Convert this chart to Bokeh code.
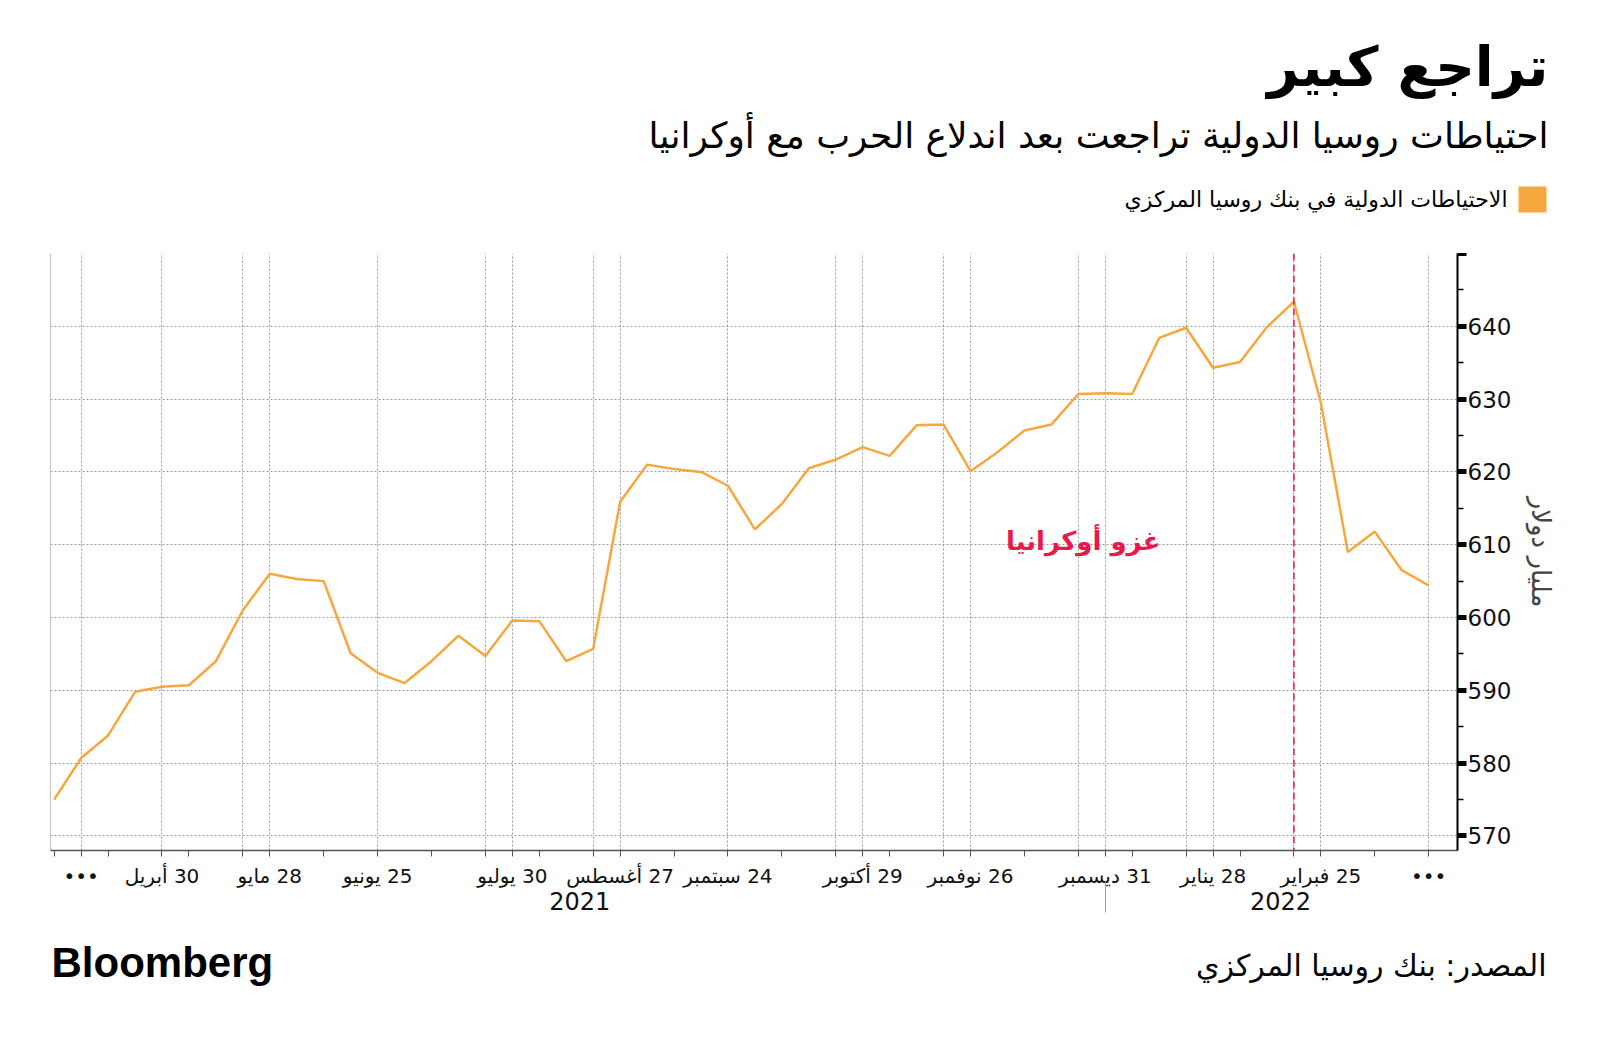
import numpy as np
import pandas as pd
from bokeh.plotting import figure
from bokeh.layouts import column
from bokeh.models import Range1d, FixedTicker, Label, Span, LinearAxis
from bokeh.embed import file_html
from bokeh.resources import INLINE

# ---------------- data ----------------
dates = pd.date_range("2021-04-02", "2022-03-25", freq="W-FRI")
reserves = [575.0, 580.7, 583.8, 589.8, 590.5, 590.7, 594.0, 601.0, 606.0, 605.3,
            605.0, 595.1, 592.4, 591.0, 594.0, 597.5, 594.7, 599.6, 599.5, 594.0,
            595.7, 615.9, 621.0, 620.4, 620.0, 618.1, 612.1, 615.6, 620.5, 621.7,
            623.4, 622.2, 626.4, 626.5, 620.1, 622.7, 625.7, 626.5, 630.7, 630.8,
            630.7, 638.4, 639.8, 634.3, 635.1, 639.9, 643.4, 629.5, 609.0, 611.8,
            606.5, 604.4]

month_label_dates = ["2021-04-30", "2021-05-28", "2021-06-25", "2021-07-30", "2021-08-27",
                     "2021-09-24", "2021-10-29", "2021-11-26", "2021-12-31", "2022-01-28",
                     "2022-02-25"]
month_label_texts = ["30 أبريل", "28 مايو", "25 يونيو", "30 يوليو", "27 أغسطس",
                     "24 سبتمبر", "29 أكتوبر", "26 نوفمبر", "31 ديسمبر", "28 يناير",
                     "25 فبراير"]
grid_dates = ["2021-04-09", "2021-04-30", "2021-05-21", "2021-05-28", "2021-06-25",
              "2021-07-23", "2021-07-30", "2021-08-20", "2021-08-27", "2021-09-24",
              "2021-10-22", "2021-10-29", "2021-11-19", "2021-11-26", "2021-12-24",
              "2021-12-31", "2022-01-21", "2022-01-28", "2022-02-18", "2022-02-25",
              "2022-03-25"]
tick_dates = ["2021-04-02", "2021-04-09", "2021-04-16", "2021-04-30", "2021-05-07",
              "2021-05-21", "2021-05-28", "2021-06-11", "2021-06-25", "2021-07-09",
              "2021-07-23", "2021-07-30", "2021-08-06", "2021-08-20", "2021-08-27",
              "2021-09-10", "2021-09-24", "2021-10-08", "2021-10-22", "2021-10-29",
              "2021-11-05", "2021-11-19", "2021-11-26", "2021-12-10", "2021-12-24",
              "2021-12-31", "2022-01-07", "2022-01-21", "2022-01-28", "2022-02-04",
              "2022-02-18", "2022-02-25", "2022-03-11", "2022-03-25"]
ellipsis_dates = ["2021-04-09", "2022-03-25"]
invasion_date = "2022-02-18"
year_separator_date = "2021-12-31"
years = ["2021", "2022"]
year_centers = [19.5, 45.5]  # week positions of the year captions

y_ticks = [570, 580, 590, 600, 610, 620, 630, 640, 650]
y_minor = [575, 585, 595, 605, 615, 625, 635, 645]

TITLE = "تراجع كبير"
SUBTITLE = "احتياطات روسيا الدولية تراجعت بعد اندلاع الحرب مع أوكرانيا"
LEGEND = "الاحتياطات الدولية في بنك روسيا المركزي"
SOURCE = "المصدر: بنك روسيا المركزي"
Y_LABEL = "مليار دولار"
EVENT = "غزو أوكرانيا"

# ---------------- helpers ----------------
date_str = list(dates.strftime("%Y-%m-%d"))
pos = {d: i for i, d in enumerate(date_str)}
x = [pos[d] for d in date_str]

ORANGE = "#F6A73F"
RED = "#E8194B"
AR = "DejaVu Sans"
RLM = "\u200f"
W = 1600
HEAD_H, FOOT_H = 253, 110
MAIN_H = 1040 - HEAD_H - FOOT_H


def blank(height):
    f = figure(width=W, height=height, output_backend="svg", toolbar_location=None,
               x_range=Range1d(0, W), y_range=Range1d(height, 0),
               x_axis_type=None, y_axis_type=None, min_border=0,
               min_border_left=0, min_border_right=0, min_border_top=0,
               min_border_bottom=0, frame_align=False)
    f.title.visible = False
    f.outline_line_color = None
    f.grid.visible = False
    return f


# ---------------- header ----------------
head = blank(HEAD_H)
head.add_layout(Label(x=1548, y=66, text=TITLE, text_font=AR, text_font_style="bold",
                      text_font_size="55px", text_color="black", text_align="right",
                      text_baseline="middle"))
head.add_layout(Label(x=1548, y=135, text=SUBTITLE, text_font=AR, text_font_size="36px",
                      text_color="black", text_align="right", text_baseline="middle"))
head.quad(left=[1518], right=[1546], top=[186], bottom=[212], fill_color=ORANGE,
          line_color=None)
head.add_layout(Label(x=1507, y=199, text=LEGEND, text_font=AR, text_font_size="22px",
                      text_color="black", text_align="right", text_baseline="middle"))

# ---------------- main chart ----------------
x_start, x_end = -0.137, 52.07
y_start, y_end = 568.0, 650.0

p = figure(width=W, height=MAIN_H, output_backend="svg", toolbar_location=None,
           x_range=Range1d(x_start, x_end), y_range=Range1d(y_start, y_end),
           y_axis_location="right", frame_align=False,
           min_border_left=50, min_border_right=143, min_border_top=0,
           min_border_bottom=MAIN_H - 597)
p.title.visible = False
p.outline_line_color = None

# month axis
xa = p.xaxis[0]
tick_idx = [pos[d] for d in tick_dates]
xa.ticker = FixedTicker(ticks=tick_idx)
lab_map = {pos[d]: RLM + t for d, t in zip(month_label_dates, month_label_texts)}
for d in ellipsis_dates:
    lab_map[pos[d]] = "•••"
xa.major_label_overrides = {i: lab_map.get(i, "") for i in tick_idx}
xa.major_label_text_font = AR
xa.major_label_text_font_size = "20px"
xa.major_label_text_color = "#111111"
xa.major_label_standoff = 7
xa.axis_line_color = "#555555"
xa.axis_line_width = 1.5
xa.major_tick_line_color = "#555555"
xa.major_tick_out = 6
xa.major_tick_in = 0
xa.minor_tick_line_color = None

# year axis
year_axis = LinearAxis(ticker=FixedTicker(ticks=year_centers),
                       major_label_overrides={c: y for c, y in zip(year_centers, years)})
year_axis.axis_line_color = None
year_axis.major_tick_line_color = None
year_axis.minor_tick_line_color = None
year_axis.major_label_standoff = -5
year_axis.major_label_text_font = AR
year_axis.major_label_text_font_size = "24px"
year_axis.major_label_text_color = "#111111"
p.add_layout(year_axis, "below")

# year separator axis
sep = pos[year_separator_date]
sep_axis = LinearAxis(ticker=FixedTicker(ticks=[sep]), major_label_overrides={sep: ""})
sep_axis.axis_line_color = None
sep_axis.minor_tick_line_color = None
sep_axis.major_tick_line_color = "#999999"
sep_axis.major_tick_line_width = 1
sep_axis.major_tick_in = 32
sep_axis.major_tick_out = 0
p.add_layout(sep_axis, "below")

# y axis (right)
ya = p.yaxis[0]
ya.ticker = FixedTicker(ticks=y_ticks, minor_ticks=y_minor)
ya.major_label_overrides = {v: (str(v) if v < y_end else "") for v in y_ticks}
ya.major_tick_out = 9
ya.major_tick_in = 0
ya.major_tick_line_color = "black"
ya.major_tick_line_width = 5
ya.minor_tick_out = 6
ya.minor_tick_in = 0
ya.minor_tick_line_color = "black"
ya.minor_tick_line_width = 1.5
ya.axis_line_color = "black"
ya.axis_line_width = 2
ya.major_label_text_font = AR
ya.major_label_text_font_size = "23px"
ya.major_label_text_color = "#111111"
ya.major_label_standoff = 1
ya.axis_label = Y_LABEL
ya.axis_label_text_font = AR
ya.axis_label_text_font_size = "26px"
ya.axis_label_text_font_style = "normal"
ya.axis_label_standoff = 12

# grids
p.xgrid[0].ticker = FixedTicker(ticks=[pos[d] for d in grid_dates])
p.ygrid[0].ticker = FixedTicker(ticks=y_ticks)
for g in (p.xgrid[0], p.ygrid[0]):
    g.grid_line_color = "#9a9a9a"
    g.grid_line_dash = "2 2"
    g.grid_line_width = 1

p.add_layout(Span(location=x_start, dimension="height", line_color="#888888", line_width=1))
p.add_layout(Span(location=pos[invasion_date], dimension="height", line_color=RED,
                  line_dash="7 4", line_width=1.5))

p.line(x, reserves, line_color=ORANGE, line_width=2.5)

p.add_layout(Label(x=pos[invasion_date] - 4.95, y=610.5, text=EVENT,
                   text_font=AR, text_font_style="bold", text_font_size="26px",
                   text_color=RED, text_align="right", text_baseline="middle"))

# ---------------- footer ----------------
foot = blank(FOOT_H)
foot.add_layout(Label(x=1546, y=35, text=SOURCE, text_font=AR, text_font_size="30px",
                      text_color="black", text_align="right", text_baseline="middle"))
foot.add_layout(Label(x=51, y=32, text="Bloomberg", text_font="Liberation Sans",
                      text_font_style="bold", text_font_size="42px", text_color="black",
                      text_align="left", text_baseline="middle"))

layout = column(head, p, foot, spacing=0)
open("out.html", "w").write(file_html(layout, INLINE))
